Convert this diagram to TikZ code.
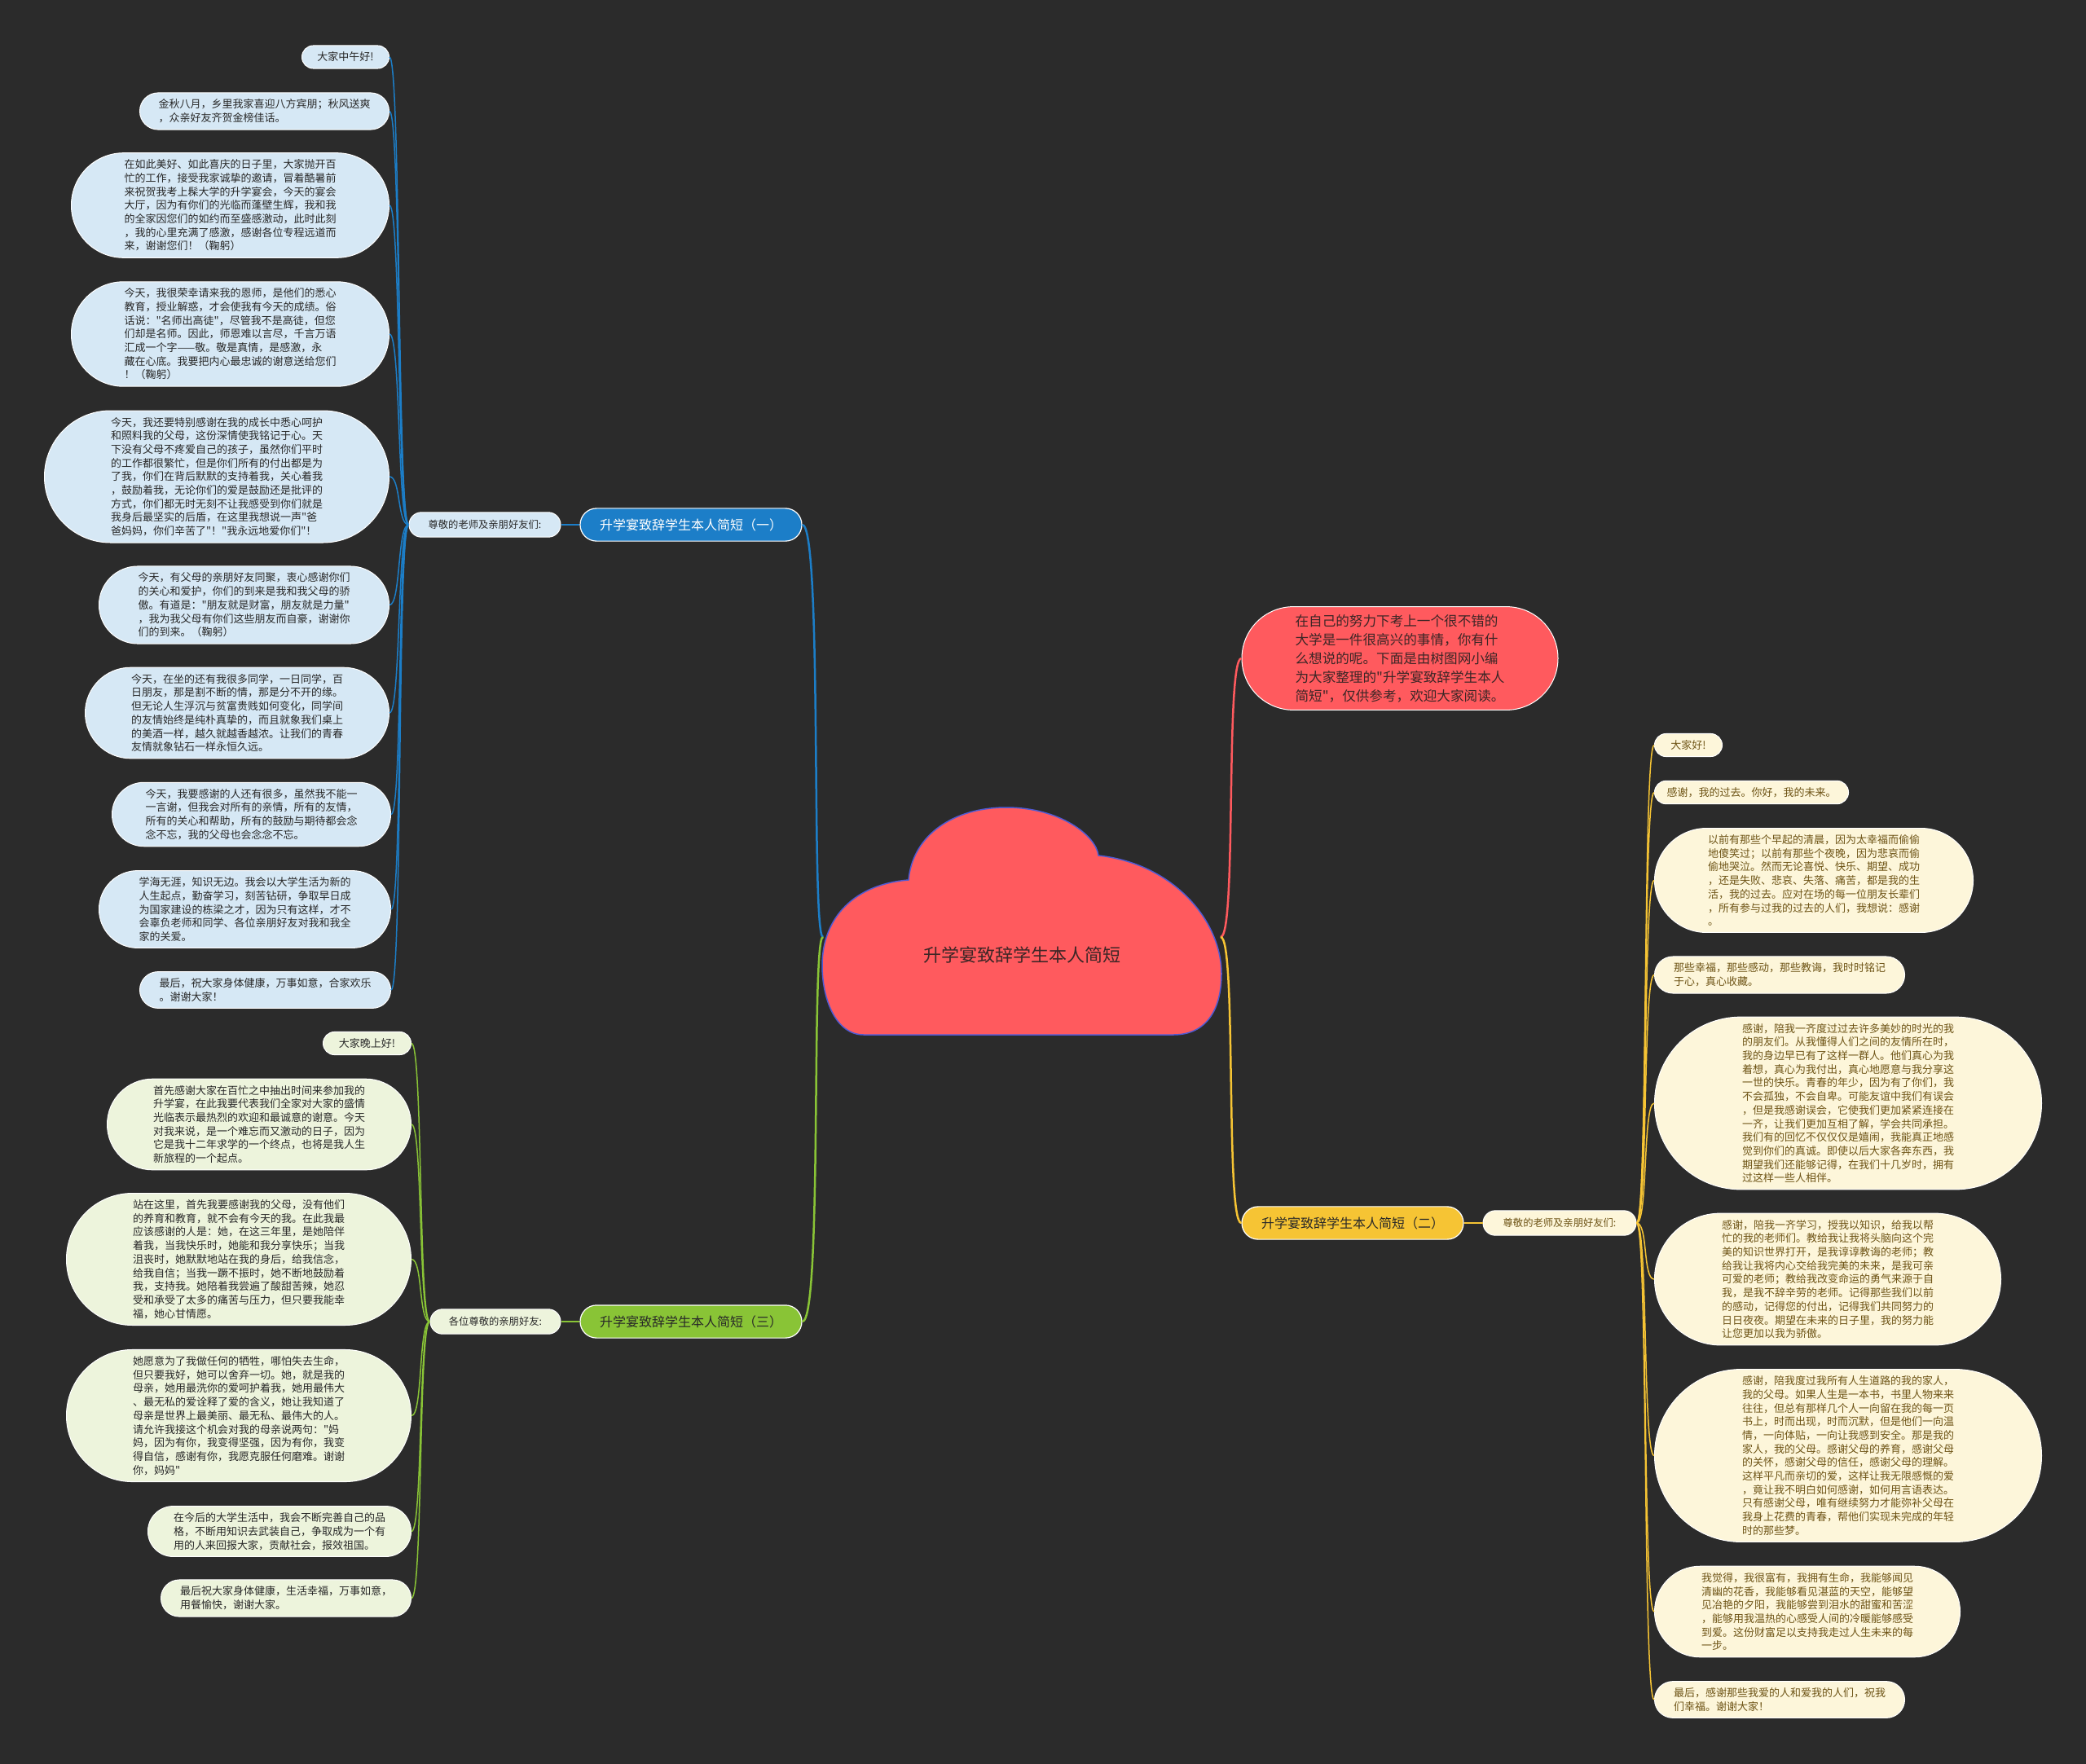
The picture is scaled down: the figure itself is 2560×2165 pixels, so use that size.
\documentclass[tikz,border=0pt]{standalone}
\usepackage{fontspec}
\usepackage{tikz}
\usetikzlibrary{shapes.misc}
\newfontfamily\cjk{Noto Sans CJK SC}

\definecolor{bgcol}{RGB}{43,43,43}
\definecolor{bluemain}{RGB}{28,126,200}
\definecolor{blueleaf}{RGB}{214,232,245}
\definecolor{greenmain}{RGB}{137,196,54}
\definecolor{greenleaf}{RGB}{237,244,220}
\definecolor{yellowmain}{RGB}{246,196,52}
\definecolor{yellowleaf}{RGB}{253,246,218}
\definecolor{rootred}{RGB}{255,90,94}
\definecolor{cloudline}{RGB}{80,90,210}
\definecolor{leaftext}{RGB}{40,40,40}
\definecolor{yellowtext}{RGB}{110,84,22}
\definecolor{redtext}{RGB}{60,38,38}

\tikzset{
  pill/.style={rounded rectangle, inner xsep=0pt, draw=white, line width=1pt, align=left},
  leaf/.style={pill, inner ysep=8pt, font=\cjk\fontsize{13}{16.7}\selectfont},
  bleaf/.style={leaf, fill=blueleaf, text=leaftext},
  gleaf/.style={leaf, fill=greenleaf, text=leaftext},
  yleaf/.style={leaf, fill=yellowleaf, text=yellowtext},
  sublabel/.style={pill, inner ysep=9.5pt, font=\cjk\fontsize{12.3}{14}\selectfont},
  mainbox/.style={pill, inner ysep=12.5pt, line width=1.2pt, minimum width=272pt, font=\cjk\fontsize{16}{18}\selectfont},
  bedge/.style={draw=bluemain, line width=1.5pt},
  gedge/.style={draw=greenmain, line width=1.5pt},
  yedge/.style={draw=yellowmain, line width=1.5pt},
  redge/.style={draw=rootred, line width=2.5pt}
}

\begin{document}
\begin{tikzpicture}[x=1pt,y=-1pt]

\fill[bgcol] (0,0) rectangle (2560,2165);
\useasboundingbox (0,0) rectangle (2560,2165);

% ---------------- Root cloud ----------------
\draw[fill=rootred, draw=cloudline, line width=1.5pt]
  (1060,1270) .. controls (1025,1270) and (1009,1225) .. (1009,1185)
  .. controls (1009,1125) and (1050,1085) .. (1115,1080)
  .. controls (1120,1025) and (1170,991) .. (1235,991)
  .. controls (1300,991) and (1345,1025) .. (1348,1050)
  .. controls (1440,1060) and (1499,1130) .. (1499,1195)
  .. controls (1499,1240) and (1480,1270) .. (1440,1270)
  -- cycle;
\node[font=\cjk\fontsize{22}{26}\selectfont, text=redtext] (root) at (1254,1172) {升学宴致辞学生本人简短};
\coordinate (rootW) at (1010,1150);
\coordinate (rootE) at (1498,1150);

% ---------------- Intro (red) ----------------
\node[pill, fill=rootred, inner ysep=9.5pt, text=redtext, minimum width=388pt,
  font=\cjk\fontsize{16.6}{23}\selectfont] (intro) at (1718,808)
  {在自己的努力下考上一个很不错的\\大学是一件很高兴的事情，你有什\\么想说的呢。下面是由树图网小编\\为大家整理的"升学宴致辞学生本人\\简短"，仅供参考，欢迎大家阅读。};

% ---------------- Branch (一), blue ----------------
\node[mainbox, fill=bluemain, text=white] (bmain) at (848,644) {升学宴致辞学生本人简短（一）};
\node[sublabel, fill=blueleaf, text=leaftext, minimum width=186pt] (bsub) at (595,644) {尊敬的老师及亲朋好友们:};

\node[bleaf, anchor=east, minimum width=107pt] (b1) at (478,70) {大家中午好!};
\node[bleaf, anchor=east, minimum width=306pt] (b2) at (478,136.5) {金秋八月，乡里我家喜迎八方宾朋；秋风送爽\\，众亲好友齐贺金榜佳话。};
\node[bleaf, anchor=east, minimum width=390pt] (b3) at (478,252) {在如此美好、如此喜庆的日子里，大家抛开百\\忙的工作，接受我家诚挚的邀请，冒着酷暑前\\来祝贺我考上髹大学的升学宴会，今天的宴会\\大厅，因为有你们的光临而蓬壁生辉，我和我\\的全家因您们的如约而至盛感激动，此时此刻\\，我的心里充满了感激，感谢各位专程远道而\\来，谢谢您们！（鞠躬）};
\node[bleaf, anchor=east, minimum width=390pt] (b4) at (478,410) {今天，我很荣幸请来我的恩师，是他们的悉心\\教育，授业解惑，才会使我有今天的成绩。俗\\话说："名师出高徒"，尽管我不是高徒，但您\\们却是名师。因此，师恩难以言尽，千言万语\\汇成一个字——敬。敬是真情，是感激，永\\藏在心底。我要把内心最忠诚的谢意送给您们\\！（鞠躬）};
\node[bleaf, anchor=east, minimum width=423pt] (b5) at (478,585) {今天，我还要特别感谢在我的成长中悉心呵护\\和照料我的父母，这份深情使我铭记于心。天\\下没有父母不疼爱自己的孩子，虽然你们平时\\的工作都很繁忙，但是你们所有的付出都是为\\了我，你们在背后默默的支持着我，关心着我\\，鼓励着我，无论你们的爱是鼓励还是批评的\\方式，你们都无时无刻不让我感受到你们就是\\我身后最坚实的后盾，在这里我想说一声"爸\\爸妈妈，你们辛苦了"！"我永远地爱你们"！};
\node[bleaf, anchor=east, minimum width=356pt] (b6) at (478,742.5) {今天，有父母的亲朋好友同聚，衷心感谢你们\\的关心和爱护，你们的到来是我和我父母的骄\\傲。有道是："朋友就是财富，朋友就是力量"\\，我为我父母有你们这些朋友而自豪，谢谢你\\们的到来。（鞠躬）};
\node[bleaf, anchor=east, minimum width=373pt] (b7) at (478,875) {今天，在坐的还有我很多同学，一日同学，百\\日朋友，那是割不断的情，那是分不开的缘。\\但无论人生浮沉与贫富贵贱如何变化，同学间\\的友情始终是纯朴真挚的，而且就象我们桌上\\的美酒一样，越久就越香越浓。让我们的青春\\友情就象钻石一样永恒久远。};
\node[bleaf, anchor=east, minimum width=342pt] (b8) at (480,999.5) {今天，我要感谢的人还有很多，虽然我不能一\\一言谢，但我会对所有的亲情，所有的友情，\\所有的关心和帮助，所有的鼓励与期待都会念\\念不忘，我的父母也会念念不忘。};
\node[bleaf, anchor=east, minimum width=358pt] (b9) at (480,1116) {学海无涯，知识无边。我会以大学生活为新的\\人生起点，勤奋学习，刻苦钻研，争取早日成\\为国家建设的栋梁之才，因为只有这样，才不\\会辜负老师和同学、各位亲朋好友对我和我全\\家的关爱。};
\node[bleaf, anchor=east, minimum width=308pt] (b10) at (480,1215) {最后，祝大家身体健康，万事如意，合家欢乐\\。谢谢大家！};

% ---------------- Branch (三), green ----------------
\node[mainbox, fill=greenmain, text=leaftext] (gmain) at (848,1622) {升学宴致辞学生本人简短（三）};
\node[sublabel, fill=greenleaf, text=leaftext, minimum width=160pt] (gsub) at (608,1622) {各位尊敬的亲朋好友:};

\node[gleaf, anchor=east, minimum width=108pt] (g1) at (505,1280.5) {大家晚上好!};
\node[gleaf, anchor=east, minimum width=373pt] (g2) at (505,1380) {首先感谢大家在百忙之中抽出时间来参加我的\\升学宴，在此我要代表我们全家对大家的盛情\\光临表示最热烈的欢迎和最诚意的谢意。今天\\对我来说，是一个难忘而又激动的日子，因为\\它是我十二年求学的一个终点，也将是我人生\\新旅程的一个起点。};
\node[gleaf, anchor=east, minimum width=423pt] (g3) at (505,1545.5) {站在这里，首先我要感谢我的父母，没有他们\\的养育和教育，就不会有今天的我。在此我最\\应该感谢的人是：她，在这三年里，是她陪伴\\着我，当我快乐时，她能和我分享快乐；当我\\沮丧时，她默默地站在我的身后，给我信念，\\给我自信；当我一蹶不振时，她不断地鼓励着\\我，支持我。她陪着我尝遍了酸甜苦辣，她忍\\受和承受了太多的痛苦与压力，但只要我能幸\\福，她心甘情愿。};
\node[gleaf, anchor=east, minimum width=423pt] (g4) at (505,1737.5) {她愿意为了我做任何的牺牲，哪怕失去生命，\\但只要我好，她可以舍弃一切。她，就是我的\\母亲，她用最洗你的爱呵护着我，她用最伟大\\、最无私的爱诠释了爱的含义，她让我知道了\\母亲是世界上最美丽、最无私、最伟大的人。\\请允许我接这个机会对我的母亲说两句："妈\\妈，因为有你，我变得坚强，因为有你，我变\\得自信，感谢有你，我愿克服任何磨难。谢谢\\你，妈妈"};
\node[gleaf, anchor=east, minimum width=323pt] (g5) at (505,1879.5) {在今后的大学生活中，我会不断完善自己的品\\格，不断用知识去武装自己，争取成为一个有\\用的人来回报大家，贡献社会，报效祖国。};
\node[gleaf, anchor=east, minimum width=307pt] (g6) at (505,1961.5) {最后祝大家身体健康，生活幸福，万事如意，\\用餐愉快，谢谢大家。};

% ---------------- Branch (二), yellow ----------------
\node[mainbox, fill=yellowmain, text=leaftext] (ymain) at (1660,1501) {升学宴致辞学生本人简短（二）};
\node[sublabel, fill=yellowleaf, text=yellowtext, minimum width=188pt] (ysub) at (1914,1501) {尊敬的老师及亲朋好友们:};

\node[yleaf, anchor=west, minimum width=83pt] (y1) at (2030,914.5) {大家好!};
\node[yleaf, anchor=west, minimum width=238pt] (y2) at (2030,972.5) {感谢，我的过去。你好，我的未来。};
\node[yleaf, anchor=west, minimum width=391pt] (y3) at (2030,1080.5) {以前有那些个早起的清晨，因为太幸福而偷偷\\地傻笑过；以前有那些个夜晚，因为悲哀而偷\\偷地哭泣。然而无论喜悦、快乐、期望、成功\\，还是失败、悲哀、失落、痛苦，都是我的生\\活，我的过去。应对在场的每一位朋友长辈们\\，所有参与过我的过去的人们，我想说：感谢\\。};
\node[yleaf, anchor=west, minimum width=307pt] (y4) at (2030,1196.5) {那些幸福，那些感动，那些教诲，我时时铭记\\于心，真心收藏。};
\node[yleaf, anchor=west, minimum width=475pt] (y5) at (2030,1354) {感谢，陪我一齐度过过去许多美妙的时光的我\\的朋友们。从我懂得人们之间的友情所在时，\\我的身边早已有了这样一群人。他们真心为我\\着想，真心为我付出，真心地愿意与我分享这\\一世的快乐。青春的年少，因为有了你们，我\\不会孤独，不会自卑。可能友谊中我们有误会\\，但是我感谢误会，它使我们更加紧紧连接在\\一齐，让我们更加互相了解，学会共同承担。\\我们有的回忆不仅仅仅是嬉闹，我能真正地感\\觉到你们的真诚。即使以后大家各奔东西，我\\期望我们还能够记得，在我们十几岁时，拥有\\过这样一些人相伴。};
\node[yleaf, anchor=west, minimum width=425pt] (y6) at (2030,1570) {感谢，陪我一齐学习，授我以知识，给我以帮\\忙的我的老师们。教给我让我将头脑向这个完\\美的知识世界打开，是我谆谆教诲的老师；教\\给我让我将内心交给我完美的未来，是我可亲\\可爱的老师；教给我改变命运的勇气来源于自\\我，是我不辞辛劳的老师。记得那些我们以前\\的感动，记得您的付出，记得我们共同努力的\\日日夜夜。期望在未来的日子里，我的努力能\\让您更加以我为骄傲。};
\node[yleaf, anchor=west, minimum width=475pt] (y7) at (2030,1786.5) {感谢，陪我度过我所有人生道路的我的家人，\\我的父母。如果人生是一本书，书里人物来来\\往往，但总有那样几个人一向留在我的每一页\\书上，时而出现，时而沉默，但是他们一向温\\情，一向体贴，一向让我感到安全。那是我的\\家人，我的父母。感谢父母的养育，感谢父母\\的关怀，感谢父母的信任，感谢父母的理解。\\这样平凡而亲切的爱，这样让我无限感慨的爱\\，竟让我不明白如何感谢，如何用言语表达。\\只有感谢父母，唯有继续努力才能弥补父母在\\我身上花费的青春，帮他们实现未完成的年轻\\时的那些梦。};
\node[yleaf, anchor=west, minimum width=375pt] (y8) at (2030,1978) {我觉得，我很富有，我拥有生命，我能够闻见\\清幽的花香，我能够看见湛蓝的天空，能够望\\见冶艳的夕阳，我能够尝到泪水的甜蜜和苦涩\\，能够用我温热的心感受人间的冷暖能够感受\\到爱。这份财富足以支持我走过人生未来的每\\一步。};
\node[yleaf, anchor=west, minimum width=307pt] (y9) at (2030,2086) {最后，感谢那些我爱的人和爱我的人们，祝我\\们幸福。谢谢大家！};

% ---------------- Connectors ----------------
\draw[bedge, line width=2.5pt] (bmain.east) .. controls +(25,0) and +(-15,0) .. (rootW);
\draw[gedge, line width=2.5pt] (gmain.east) .. controls +(25,0) and +(-15,0) .. (rootW);
\draw[redge] (rootE) .. controls +(20,0) and +(-20,0) .. (intro.west);
\draw[yedge, line width=2.5pt] (rootE) .. controls +(20,0) and +(-20,0) .. (ymain.west);

\draw[bedge, line width=2pt] (bmain.west) -- (bsub.east);
\draw[gedge, line width=2pt] (gmain.west) -- (gsub.east);
\draw[yedge, line width=2pt] (ymain.east) -- (ysub.west);

\foreach \i in {1,...,10}{
  \draw[bedge] (bsub.west) .. controls +(-14,0) and +(14,0) .. (b\i.east);
}
\foreach \i in {1,...,6}{
  \draw[gedge] (gsub.west) .. controls +(-14,0) and +(14,0) .. (g\i.east);
}
\foreach \i in {1,...,9}{
  \draw[yedge] (ysub.east) .. controls +(14,0) and +(-14,0) .. (y\i.west);
}

\end{tikzpicture}
\end{document}
